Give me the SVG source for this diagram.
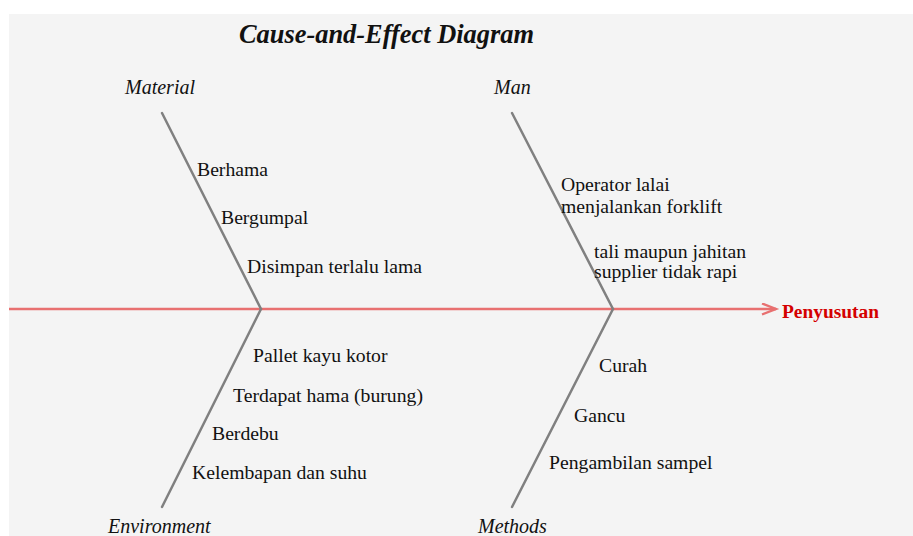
<svg xmlns="http://www.w3.org/2000/svg" width="913" height="536" viewBox="0 0 913 536">
<defs>
<style>
.bg{fill:#f4f4f4}
.bone{stroke:#808080;stroke-width:2.5;fill:none;stroke-linecap:round}
.spine{stroke:#e87070;stroke-width:2.6;fill:none}
.t{font-family:"Liberation Serif","Times New Roman",serif;font-size:19.7px;fill:#111}
.cat{font-family:"Liberation Serif","Times New Roman",serif;font-size:20px;font-style:italic;fill:#111}
.title{font-family:"Liberation Serif","Times New Roman",serif;font-size:26.4px;font-style:italic;font-weight:bold;fill:#111}
.effect{font-family:"Liberation Serif","Times New Roman",serif;font-size:19.4px;font-weight:bold;fill:#d40000}
</style>
<marker id="arr" markerWidth="20" markerHeight="14" refX="15" refY="6" orient="auto" markerUnits="userSpaceOnUse">
<path d="M1,0.5 L15,6 L1,11.5" fill="none" stroke="#e87070" stroke-width="2.4"/>
</marker>
</defs>
<rect x="0" y="0" width="913" height="536" fill="#ffffff"/>
<rect class="bg" x="9" y="14" width="904" height="522"/>
<text class="title" x="239" y="43">Cause-and-Effect Diagram</text>
<g id="connectors">
<line class="spine" x1="9" y1="309" x2="776" y2="309" marker-end="url(#arr)"/>
<line class="bone" x1="162" y1="113" x2="261" y2="309"/>
<line class="bone" x1="512" y1="113" x2="613" y2="309"/>
<line class="bone" x1="261" y1="309" x2="162" y2="507"/>
<line class="bone" x1="613" y1="309" x2="512" y2="507"/>
</g>
<g id="effect">
<text class="effect" x="782" y="318">Penyusutan</text>
</g>
<g id="material">
<text class="cat" x="125" y="94">Material</text>
<text class="t" x="197" y="176">Berhama</text>
<text class="t" x="221" y="224">Bergumpal</text>
<text class="t" x="247" y="273">Disimpan terlalu lama</text>
</g>
<g id="man">
<text class="cat" x="494" y="94">Man</text>
<text class="t" x="561" y="191">Operator lalai</text>
<text class="t" x="561" y="213">menjalankan forklift</text>
<text class="t" x="594" y="258">tali maupun jahitan</text>
<text class="t" x="594" y="278">supplier tidak rapi</text>
</g>
<g id="environment">
<text class="cat" x="108" y="533">Environment</text>
<text class="t" x="253" y="362">Pallet kayu kotor</text>
<text class="t" x="233" y="402">Terdapat hama (burung)</text>
<text class="t" x="212" y="440">Berdebu</text>
<text class="t" x="192" y="479">Kelembapan dan suhu</text>
</g>
<g id="methods">
<text class="cat" x="478" y="533">Methods</text>
<text class="t" x="599" y="372">Curah</text>
<text class="t" x="574" y="422">Gancu</text>
<text class="t" x="549" y="469">Pengambilan sampel</text>
</g>
</svg>
